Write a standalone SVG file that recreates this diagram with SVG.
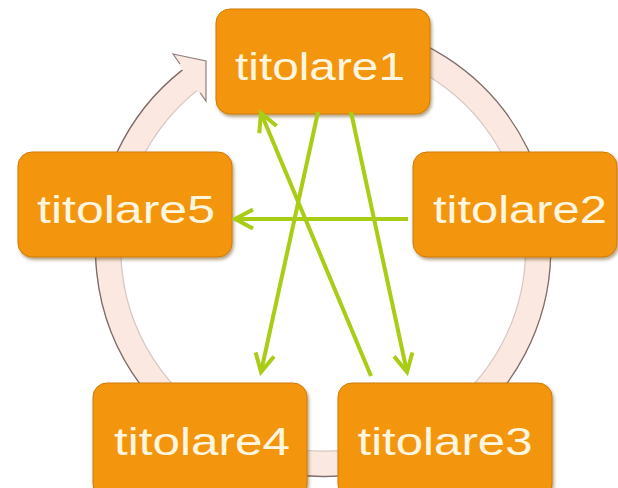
<svg xmlns="http://www.w3.org/2000/svg" width="618" height="488" viewBox="0 0 618 488">
<style>
.node rect{fill:#f4960e;stroke:#cf7b00;stroke-width:1;filter:url(#sh)}
.node text{font-family:"Liberation Sans",Arial,sans-serif;font-size:39px;fill:#fff6e0;text-anchor:middle}
.link{stroke:#a9cc14;stroke-width:4;fill:none;marker-end:url(#ah)}
</style>
<defs>
<filter id="sh" x="-10%" y="-10%" width="125%" height="130%">
<feDropShadow dx="1.5" dy="2.5" stdDeviation="1.8" flood-color="#5a3a10" flood-opacity="0.45"/>
</filter>
<marker id="ah" markerUnits="userSpaceOnUse" viewBox="0 0 24 24" markerWidth="24" markerHeight="24" refX="21" refY="12" orient="auto" overflow="visible">
<path d="M3,2.6 L21,12 L3,21.4" fill="none" stroke="#a9cc14" stroke-width="4"/>
</marker>
</defs>
<g id="ring">
<path d="M232.1,54.1 A215,215 0 1 1 190.6,79.6" fill="none" stroke="#d6c8c3" stroke-width="26.5"/>
<path d="M227.2,42.8 A227.3,227.3 0 1 1 183,69.9" fill="none" stroke="#7d6d69" stroke-width="2"/>
<path d="M232.1,54.1 A215,215 0 1 1 190.6,79.6" fill="none" stroke="#fbe9e1" stroke-width="24"/>
<polygon points="173,54 206,61 206,101" fill="#fbe9e1" stroke="#8f7f7a" stroke-width="1.2" stroke-linejoin="miter"/>
<line x1="180" y1="64" x2="200" y2="93" stroke="#fbe9e1" stroke-width="3"/>
</g>
<g id="node1" class="node"><rect x="216" y="9" width="214" height="105" rx="14"/><text x="320" y="80" textLength="170" lengthAdjust="spacingAndGlyphs">titolare1</text></g>
<g id="node2" class="node"><rect x="413" y="152" width="204" height="105" rx="14"/><text x="520" y="223" textLength="174" lengthAdjust="spacingAndGlyphs">titolare2</text></g>
<g id="node3" class="node"><rect x="338" y="383" width="214" height="115" rx="14"/><text x="445" y="455" textLength="175" lengthAdjust="spacingAndGlyphs">titolare3</text></g>
<g id="node4" class="node"><rect x="93" y="383" width="214" height="115" rx="14"/><text x="202" y="455" textLength="176" lengthAdjust="spacingAndGlyphs">titolare4</text></g>
<g id="node5" class="node"><rect x="18" y="152" width="214" height="105" rx="14"/><text x="126" y="223" textLength="178" lengthAdjust="spacingAndGlyphs">titolare5</text></g>
<g id="connectors">
<line class="link" x1="318" y1="112" x2="261" y2="372"/>
<line class="link" x1="351" y1="112" x2="407" y2="372"/>
<line class="link" x1="371" y1="376" x2="261" y2="113"/>
<line class="link" x1="408" y1="219" x2="235" y2="219"/>
</g>
</svg>
